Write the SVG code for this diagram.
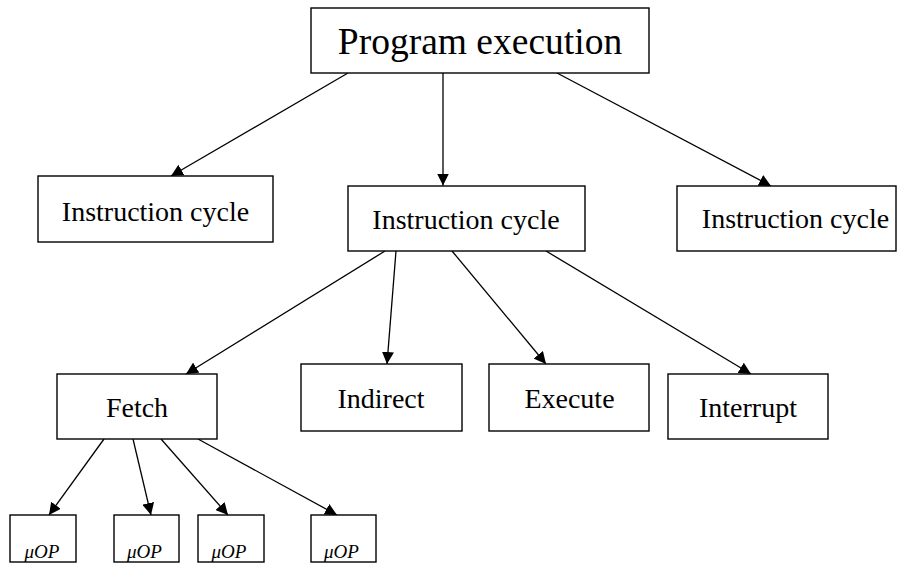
<svg xmlns="http://www.w3.org/2000/svg" width="903" height="563" viewBox="0 0 903 563">
  <style>
    .box { fill: #fff; stroke: #000; stroke-width: 1.4; }
    .lbl { font-size: 28px; fill: #000; text-anchor: middle; }
    .title { font-size: 37.5px; }
    .uop { font-size: 19px; font-style: italic; fill: #000; text-anchor: middle; }
    .edge { stroke: #000; stroke-width: 1.3; fill: none; marker-end: url(#arrow); }
  </style>
  <defs>
    <marker id="arrow" markerUnits="userSpaceOnUse" markerWidth="12" markerHeight="12" refX="12" refY="6" orient="auto">
      <path d="M0,0 L12,6 L0,12 z" fill="#000"/>
    </marker>
  </defs>
  <rect width="903" height="563" fill="#fff"/>

  <g id="connectors">
    <line class="edge" x1="348" y1="73" x2="171" y2="176"/>
    <line class="edge" x1="443" y1="73" x2="443" y2="185.5"/>
    <line class="edge" x1="557" y1="73" x2="771" y2="186"/>
    <line class="edge" x1="385" y1="251" x2="186" y2="374"/>
    <line class="edge" x1="396" y1="251" x2="387" y2="364"/>
    <line class="edge" x1="452" y1="251" x2="546" y2="364"/>
    <line class="edge" x1="546" y1="251" x2="751" y2="374"/>
    <line class="edge" x1="104" y1="439" x2="49" y2="515"/>
    <line class="edge" x1="133" y1="439" x2="151" y2="515"/>
    <line class="edge" x1="161" y1="439" x2="228" y2="515"/>
    <line class="edge" x1="198" y1="439" x2="337" y2="515"/>
  </g>

  <g font-family="Liberation Serif, Tinos, Nimbus Roman, DejaVu Serif, serif">
    <g id="program-execution">
      <rect class="box" x="311" y="8" width="338" height="65"/>
      <text class="lbl title" x="480" y="54">Program execution</text>
    </g>
    <g id="cycle-left">
      <rect class="box" x="38" y="176" width="235" height="66"/>
      <text class="lbl" x="155.5" y="221">Instruction cycle</text>
    </g>
    <g id="cycle-middle">
      <rect class="box" x="348" y="186" width="237" height="65"/>
      <text class="lbl" x="466" y="229">Instruction cycle</text>
    </g>
    <g id="cycle-right">
      <rect class="box" x="677" y="186" width="219" height="65"/>
      <text class="lbl" x="795.5" y="228">Instruction cycle</text>
    </g>
    <g id="fetch">
      <rect class="box" x="57" y="374" width="160" height="65"/>
      <text class="lbl" x="137" y="417">Fetch</text>
    </g>
    <g id="indirect">
      <rect class="box" x="301" y="364" width="161" height="67"/>
      <text class="lbl" x="381" y="408">Indirect</text>
    </g>
    <g id="execute">
      <rect class="box" x="489" y="364" width="160" height="67"/>
      <text class="lbl" x="569.5" y="408">Execute</text>
    </g>
    <g id="interrupt">
      <rect class="box" x="668" y="374" width="160" height="65"/>
      <text class="lbl" x="748" y="417">Interrupt</text>
    </g>
    <g id="uop-1">
      <rect class="box" x="10" y="515" width="66" height="47"/>
      <text class="uop" x="42" y="558">μOP</text>
    </g>
    <g id="uop-2">
      <rect class="box" x="114" y="515" width="65" height="47"/>
      <text class="uop" x="144.5" y="558">μOP</text>
    </g>
    <g id="uop-3">
      <rect class="box" x="198" y="515" width="66" height="47"/>
      <text class="uop" x="229" y="558">μOP</text>
    </g>
    <g id="uop-4">
      <rect class="box" x="311" y="515" width="65" height="47"/>
      <text class="uop" x="341.5" y="558">μOP</text>
    </g>
  </g>
</svg>
